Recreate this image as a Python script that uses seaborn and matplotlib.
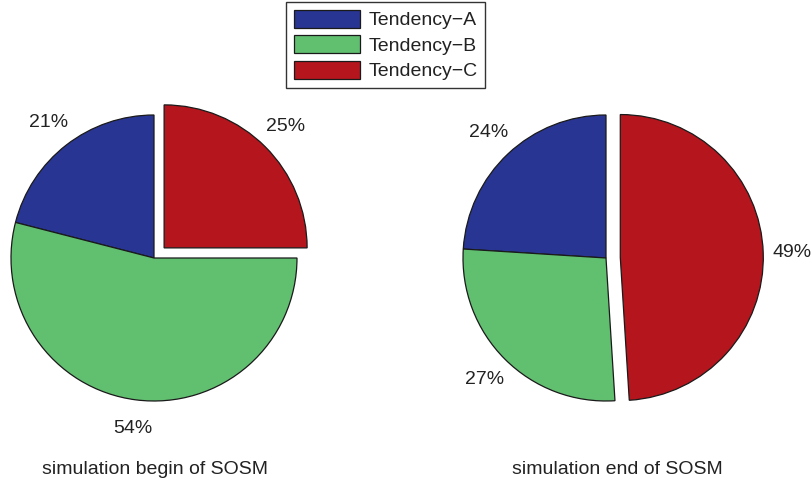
import matplotlib
matplotlib.use("Agg")
import matplotlib.pyplot as plt
import seaborn as sns

# Share of each tendency at the start and end of the SOSM simulation
categories = ["Tendency\u2212A", "Tendency\u2212B", "Tendency\u2212C"]
begin_values = [21, 54, 25]
end_values = [24, 27, 49]
panel_titles = ["simulation begin of SOSM", "simulation end of SOSM"]

colors = ["#283593", "#61bf70", "#b5151d"]

sns.set_theme(style="white")
plt.rcParams["font.family"] = ["Liberation Sans", "DejaVu Sans"]

W, H = 812, 488
fig = plt.figure(figsize=(W / 100, H / 100), dpi=100)
ax = fig.add_axes([0, 0, 1, 1])

radius = 143
# pull the Tendency-C slice out by a tenth of the radius
explode = [0, 0, 0.1 * radius]
pies = [
    (begin_values, (154, H - 258)),
    (end_values, (606, H - 258)),
]

wedges_for_legend = None
for vals, center in pies:
    wedges, _, autotexts = ax.pie(
        vals,
        colors=colors,
        explode=explode,
        startangle=90,
        counterclock=True,
        radius=radius,
        center=center,
        frame=True,
        autopct=lambda p: f"{p:.0f}%",
        pctdistance=1.2,
        wedgeprops=dict(edgecolor="#1a1a1a", linewidth=0.9),
        textprops=dict(fontsize=14, color="#222222"),
    )
    if wedges_for_legend is None:
        wedges_for_legend = wedges

ax.set_xlim(0, W)
ax.set_ylim(0, H)
ax.set_aspect("equal")
ax.axis("off")

# Panel captions beneath each pie
ax.text(155, H - 470, panel_titles[0], ha="center", va="center",
        fontsize=14, color="#222222")
ax.text(617, H - 470, panel_titles[1], ha="center", va="center",
        fontsize=14, color="#222222")

leg = fig.legend(
    wedges_for_legend, categories,
    loc="upper center", bbox_to_anchor=(385.5 / W, 1 - 2 / H),
    fontsize=14, frameon=True, fancybox=False,
    handlelength=3.4, handleheight=1.05, handletextpad=0.45,
    labelspacing=0.3, borderpad=0.4, borderaxespad=0,
)
leg.get_frame().set_edgecolor("black")
leg.get_frame().set_linewidth(1.0)
for t in leg.get_texts():
    t.set_color("#222222")

fig.savefig("out.png", dpi=100)
